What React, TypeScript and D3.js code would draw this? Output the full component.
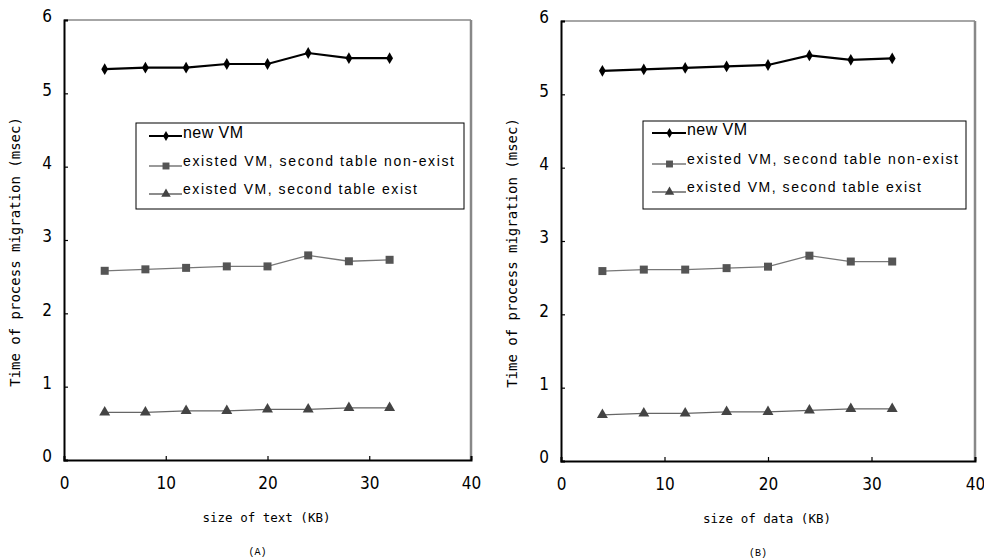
import { useEffect, useRef } from 'react';
import * as d3 from 'd3';

// x values (KB) shared by both panels
const sizes = [4, 8, 12, 16, 20, 24, 28, 32];

// panel (A): size of text
const textNewVM = [5.33, 5.35, 5.35, 5.4, 5.4, 5.55, 5.48, 5.48];
const textNoTable = [2.58, 2.6, 2.62, 2.64, 2.64, 2.79, 2.71, 2.73];
const textTable = [0.65, 0.65, 0.67, 0.67, 0.69, 0.69, 0.71, 0.71];

// panel (B): size of data
const dataNewVM = [5.32, 5.34, 5.36, 5.38, 5.4, 5.53, 5.47, 5.49];
const dataNoTable = [2.59, 2.61, 2.61, 2.63, 2.65, 2.8, 2.72, 2.72];
const dataTable = [0.63, 0.65, 0.65, 0.67, 0.67, 0.69, 0.71, 0.71];

const seriesNames = [
  'new VM',
  'existed VM, second table non-exist',
  'existed VM, second table exist',
];
const xTicks = [0, 10, 20, 30, 40];
const yTicks = [0, 1, 2, 3, 4, 5, 6];

const styles = [
  { stroke: '#000', width: 2.2, marker: 'diamond', fill: '#000', size: 40 },
  { stroke: '#777', width: 1.3, marker: 'square', fill: '#555', size: 64 },
  { stroke: '#666', width: 1.3, marker: 'triangle', fill: '#444', size: 52 },
];

const panels = [
  {
    left: 64, top: 20, right: 471, bottom: 460,
    xLabel: 'size of text (KB)', caption: '(A)',
    series: [textNewVM, textNoTable, textTable],
    legend: { x: 136, y: 123, w: 328, h: 86, lineX: 149, textX: 183, rows: [133, 161, 189] },
  },
  {
    left: 561, top: 21, right: 975, bottom: 461,
    xLabel: 'size of data (KB)', caption: '(B)',
    series: [dataNewVM, dataNoTable, dataTable],
    legend: { x: 643, y: 121, w: 323, h: 88, lineX: 652, textX: 687, rows: [130, 159, 187] },
  },
];

const legendWidths = [60, 271, 234];

function symbolOf(name: string, size: number) {
  const type = name === 'diamond' ? d3.symbolDiamond : name === 'square' ? d3.symbolSquare : d3.symbolTriangle;
  return d3.symbol().type(type).size(size)();
}

function App() {
  const svgRef = useRef<SVGSVGElement>(null);

  useEffect(() => {
    const svg = d3.select(svgRef.current);
    svg.selectAll('*').remove();

    panels.forEach(p => {
      const x = d3.scaleLinear().domain([0, 40]).range([p.left, p.right]);
      const y = d3.scaleLinear().domain([0, 6]).range([p.bottom, p.top]);
      const g = svg.append('g');

      // frame: grey top / right, black axes
      g.append('line').attr('x1', p.left).attr('x2', p.right).attr('y1', p.top).attr('y2', p.top)
        .attr('stroke', '#888').attr('stroke-width', 1.5);
      g.append('line').attr('x1', p.right).attr('x2', p.right).attr('y1', p.top).attr('y2', p.bottom)
        .attr('stroke', '#888').attr('stroke-width', 2.5);

      const xAxis = g.append('g').attr('transform', `translate(0,${p.bottom})`)
        .call(d3.axisBottom(x).tickValues(xTicks).tickSize(-4).tickPadding(15).tickFormat(d3.format('d')));
      const yAxis = g.append('g').attr('transform', `translate(${p.left},0)`)
        .call(d3.axisLeft(y).tickValues(yTicks).tickSize(-4).tickPadding(12).tickFormat(d3.format('d')));
      [xAxis, yAxis].forEach(a => {
        a.select('.domain').attr('stroke', '#000').attr('stroke-width', 2);
        a.selectAll('.tick line').attr('stroke', '#000').attr('stroke-width', 1.2);
        a.selectAll('.tick text').attr('fill', '#000')
          .style('font-family', '"DejaVu Sans Condensed", "Liberation Sans Narrow", "Noto Sans", sans-serif')
          .style('font-size', '17px');
      });
      yAxis.selectAll('.tick text').attr('dy', '0.1em');
      xAxis.selectAll('.tick text').attr('dy', '0.8em');

      // series
      p.series.forEach((vals, i) => {
        const st = styles[i];
        const pts = sizes.map((s, j) => [x(s), y(vals[j])] as [number, number]);
        g.append('path').attr('d', d3.line()(pts)).attr('fill', 'none')
          .attr('stroke', st.stroke).attr('stroke-width', st.width);
        g.selectAll(null).data(pts).enter().append('path')
          .attr('d', symbolOf(st.marker, st.size))
          .attr('transform', d => `translate(${d[0]},${d[1]})`)
          .attr('fill', st.fill);
      });

      // axis titles
      g.append('text')
        .attr('transform', `translate(${p.left - 44},${(p.top + p.bottom) / 2 + 12}) rotate(-90)`)
        .attr('text-anchor', 'middle')
        .style('font-family', '"DejaVu Sans Mono", "Liberation Mono", monospace')
        .style('font-size', '14px')
        .text('Time of process migration (msec)');
      g.append('text')
        .attr('x', (p.left + p.right) / 2 - 1).attr('y', p.bottom + 62)
        .attr('text-anchor', 'middle')
        .style('font-family', '"DejaVu Sans Mono", "Liberation Mono", monospace')
        .style('font-size', '12.5px')
        .text(p.xLabel);
      g.append('text')
        .attr('x', (p.left + p.right) / 2 - 10).attr('y', p.bottom + 95)
        .attr('text-anchor', 'middle')
        .style('font-family', '"Liberation Mono", monospace')
        .style('font-size', '10px')
        .text(p.caption);

      // legend
      const L = p.legend;
      g.append('rect').attr('x', L.x).attr('y', L.y).attr('width', L.w).attr('height', L.h)
        .attr('fill', '#fff').attr('stroke', '#000').attr('stroke-width', 1);
      seriesNames.forEach((name, i) => {
        const st = styles[i];
        const ry = L.rows[i] + (i === 0 ? 3 : 5);
        g.append('line').attr('x1', L.lineX).attr('x2', L.textX - 1).attr('y1', ry).attr('y2', ry)
          .attr('stroke', st.stroke).attr('stroke-width', st.width);
        g.append('path').attr('d', symbolOf(st.marker, st.size * 0.75))
          .attr('transform', `translate(${(L.lineX + L.textX) / 2},${ry})`).attr('fill', st.fill);
        g.append('text').attr('x', L.textX).attr('y', L.rows[i] + 5)
          .attr('textLength', legendWidths[i]).attr('lengthAdjust', 'spacing')
          .style('font-family', '"Liberation Sans", Arial, sans-serif')
          .style('font-size', i === 0 ? '16px' : '14px')
          .text(name);
      });
    });
  }, []);

  return <svg ref={svgRef} width={984} height={559} style={{ display: 'block', position: 'absolute', left: 0, top: 0 }} />;
}

export default App;
